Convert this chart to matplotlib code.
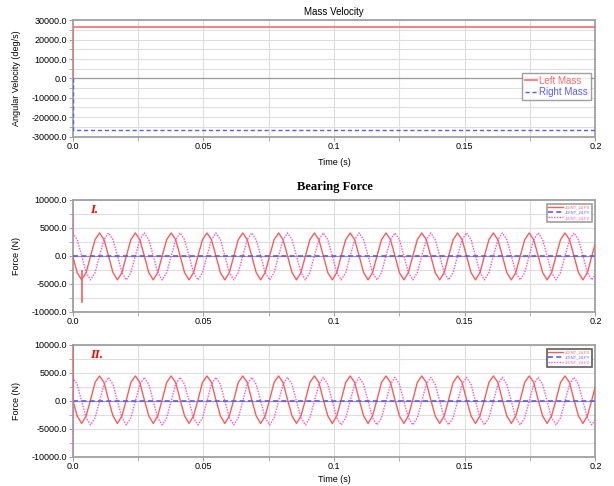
import numpy as np
import matplotlib
matplotlib.use("Agg")
import matplotlib.pyplot as plt
from matplotlib.ticker import MultipleLocator, FuncFormatter

# ---- Mass Velocity (top panel) ----
vel_t = [0.0, 0.0, 0.2]
left_mass = [0.0, 26400.0, 26400.0]
right_mass = [0.0, -26400.0, -26400.0]

# ---- Bearing force samples (one cycle per row, ~8 samples per cycle) ----
force_dt = 0.0017125
n_force = 118

fx_1 = [
    0, -3000, -4300, -3000, 0, 2900, 4100, 2900,
    0, -3000, -4300, -3000, 0, 2900, 4100, 2900,
    0, -3000, -4300, -3000, 0, 2900, 4100, 2900,
    0, -3000, -4300, -3000, 0, 2900, 4100, 2900,
    0, -3000, -4300, -3000, 0, 2900, 4100, 2900,
    0, -3000, -4300, -3000, 0, 2900, 4100, 2900,
    0, -3000, -4300, -3000, 0, 2900, 4100, 2900,
    0, -3000, -4300, -3000, 0, 2900, 4100, 2900,
    0, -3000, -4300, -3000, 0, 2900, 4100, 2900,
    0, -3000, -4300, -3000, 0, 2900, 4100, 2900,
    0, -3000, -4300, -3000, 0, 2900, 4100, 2900,
    0, -3000, -4300, -3000, 0, 2900, 4100, 2900,
    0, -3000, -4300, -3000, 0, 2900, 4100, 2900,
    0, -3000, -4300, -3000, 0, 2900, 4100, 2900,
    0, -3000, -4300, -3000, 0, 2900,
]
fz_1 = [
    4100, 2900, 0, -3000, -4300, -3000, 0, 2900,
    4100, 2900, 0, -3000, -4300, -3000, 0, 2900,
    4100, 2900, 0, -3000, -4300, -3000, 0, 2900,
    4100, 2900, 0, -3000, -4300, -3000, 0, 2900,
    4100, 2900, 0, -3000, -4300, -3000, 0, 2900,
    4100, 2900, 0, -3000, -4300, -3000, 0, 2900,
    4100, 2900, 0, -3000, -4300, -3000, 0, 2900,
    4100, 2900, 0, -3000, -4300, -3000, 0, 2900,
    4100, 2900, 0, -3000, -4300, -3000, 0, 2900,
    4100, 2900, 0, -3000, -4300, -3000, 0, 2900,
    4100, 2900, 0, -3000, -4300, -3000, 0, 2900,
    4100, 2900, 0, -3000, -4300, -3000, 0, 2900,
    4100, 2900, 0, -3000, -4300, -3000, 0, 2900,
    4100, 2900, 0, -3000, -4300, -3000, 0, 2900,
    4100, 2900, 0, -3000, -4300, -3000,
]
fx_2 = [
    200, -2700, -4050, -2700, 200, 3300, 4450, 3300,
    200, -2700, -4050, -2700, 200, 3300, 4450, 3300,
    200, -2700, -4050, -2700, 200, 3300, 4450, 3300,
    200, -2700, -4050, -2700, 200, 3300, 4450, 3300,
    200, -2700, -4050, -2700, 200, 3300, 4450, 3300,
    200, -2700, -4050, -2700, 200, 3300, 4450, 3300,
    200, -2700, -4050, -2700, 200, 3300, 4450, 3300,
    200, -2700, -4050, -2700, 200, 3300, 4450, 3300,
    200, -2700, -4050, -2700, 200, 3300, 4450, 3300,
    200, -2700, -4050, -2700, 200, 3300, 4450, 3300,
    200, -2700, -4050, -2700, 200, 3300, 4450, 3300,
    200, -2700, -4050, -2700, 200, 3300, 4450, 3300,
    200, -2700, -4050, -2700, 200, 3300, 4450, 3300,
    200, -2700, -4050, -2700, 200, 3300, 4450, 3300,
    200, -2700, -4050, -2700, 200, 3300,
]
fz_2 = [
    4200, 2950, -50, -3050, -4300, -3050, -50, 2950,
    4200, 2950, -50, -3050, -4300, -3050, -50, 2950,
    4200, 2950, -50, -3050, -4300, -3050, -50, 2950,
    4200, 2950, -50, -3050, -4300, -3050, -50, 2950,
    4200, 2950, -50, -3050, -4300, -3050, -50, 2950,
    4200, 2950, -50, -3050, -4300, -3050, -50, 2950,
    4200, 2950, -50, -3050, -4300, -3050, -50, 2950,
    4200, 2950, -50, -3050, -4300, -3050, -50, 2950,
    4200, 2950, -50, -3050, -4300, -3050, -50, 2950,
    4200, 2950, -50, -3050, -4300, -3050, -50, 2950,
    4200, 2950, -50, -3050, -4300, -3050, -50, 2950,
    4200, 2950, -50, -3050, -4300, -3050, -50, 2950,
    4200, 2950, -50, -3050, -4300, -3050, -50, 2950,
    4200, 2950, -50, -3050, -4300, -3050, -50, 2950,
    4200, 2950, -50, -3050, -4300, -3050,
]
fy_t = [0.0, 0.2]
fy = [0.0, 0.0]

# start-up spikes
spike1_fz_t = [0.0, 0.0]
spike1_fz = [4100, 7500]
spike1_fx_t = [0.0036, 0.0036]
spike1_fx = [-2800, -8200]
spike2_fx_t = [0.0, 0.0]
spike2_fx = [12000, 200]
spike2_fz_t = [0.0, 0.0]
spike2_fz = [4200, -12000]

legend_names = ["JOINT_24.FX", "JOINT_24.FY", "JOINT_24.FZ"]

RED = "#ff5a5a"
BLUE = "#5a5aff"
PINK = "#ff4fc8"
GRID = "#dedede"
EDGE = "#a0a0a0"

plt.rcParams["font.family"] = ["Liberation Sans", "DejaVu Sans"]


def xfmt(v, pos):
    if abs(v) < 1e-12:
        return "0.0"
    return "%g" % v


def style_axes(ax, ymin, ymax, ymajor, yminor):
    ax.set_xlim(0, 0.2)
    ax.set_ylim(ymin, ymax)
    ax.xaxis.set_major_locator(MultipleLocator(0.05))
    ax.xaxis.set_minor_locator(MultipleLocator(0.025))
    ax.yaxis.set_major_locator(MultipleLocator(ymajor))
    ax.yaxis.set_minor_locator(MultipleLocator(yminor))
    ax.xaxis.set_major_formatter(FuncFormatter(xfmt))
    ax.yaxis.set_major_formatter(FuncFormatter(lambda v, p: "%.1f" % v))
    ax.grid(True, which="both", color=GRID, linewidth=0.8)
    ax.set_axisbelow(True)
    ax.axhline(0, color="#9a9a9a", linewidth=0.9, zorder=1)
    for s in ax.spines.values():
        s.set_color(EDGE)
        s.set_linewidth(1.3)
    ax.tick_params(which="both", length=3, color=EDGE, labelsize=6.5, pad=1)


fig = plt.figure(figsize=(6.14, 4.86), dpi=100)

# top panel
ax1 = fig.add_axes([0.1184, 0.7191, 0.8513, 0.2391])
style_axes(ax1, -30000, 30000, 10000, 5000)
ax1.plot(vel_t, left_mass, color="#ff6a6a", linewidth=1.2, label="Left Mass", zorder=3)
ax1.plot(vel_t, right_mass, color="#5a5aff", linewidth=1.0, linestyle=(0, (3, 2)),
         label="Right Mass", zorder=3)
ax1.set_title("Mass Velocity", fontsize=7, pad=4)
ax1.set_ylabel("Angular Velocity (deg/s)", fontsize=6.5, labelpad=8)
ax1.set_xlabel("Time (s)", fontsize=6.5, labelpad=5)
leg = ax1.legend(loc="upper right", bbox_to_anchor=(1.0, 0.59), fontsize=7,
                 handlelength=1.2, handletextpad=0.2, borderpad=0.3,
                 labelspacing=0.15, fancybox=False, labelcolor="linecolor")
leg.get_frame().set_edgecolor("#888888")
leg.get_frame().set_linewidth(1.0)

# bearing force panels
t_force = np.arange(n_force) * force_dt
panels = [
    (0.3586, fx_1, fz_1, "I.", "#888888",
     [(spike1_fz_t, spike1_fz, PINK, (0, (1, 1))), (spike1_fx_t, spike1_fx, RED, "-")]),
    (0.0603, fx_2, fz_2, "II.", "#333333",
     [(spike2_fx_t, spike2_fx, RED, "-"), (spike2_fz_t, spike2_fz, PINK, (0, (1, 1)))]),
]
axes = []
for bottom, fx, fz, tag, ledge, spikes in panels:
    ax = fig.add_axes([0.1184, bottom, 0.8513, 0.2299])
    style_axes(ax, -10000, 10000, 5000, 2500)
    ax.plot(t_force, fx, color=RED, linewidth=1.0, label=legend_names[0], zorder=3)
    ax.plot(fy_t, fy, color=BLUE, linewidth=1.2, linestyle=(0, (3, 2)),
            label=legend_names[1], zorder=4)
    ax.plot(t_force, fz, color=PINK, linewidth=1.0, linestyle=(0, (1, 1)),
            label=legend_names[2], zorder=3)
    for st, sv, c, ls in spikes:
        ax.plot(st, sv, color=c, linewidth=1.2, linestyle=ls, zorder=5)
    ax.set_ylabel("Force (N)", fontsize=6.5, labelpad=8)
    ax.text(0.033, 0.91, tag, transform=ax.transAxes, color="red", fontsize=9,
            fontweight="bold", fontstyle="italic", family="Liberation Serif",
            ha="left", va="center")
    lg = ax.legend(loc="upper right", bbox_to_anchor=(0.997, 0.985), fontsize=3,
                   handlelength=3.5, handletextpad=0.4, borderpad=0.4,
                   labelspacing=0.3, fancybox=False, labelcolor="linecolor")
    lg.get_frame().set_edgecolor(ledge)
    lg.get_frame().set_linewidth(1.2)
    axes.append(ax)

axes[1].set_xlabel("Time (s)", fontsize=6.5, labelpad=3)
fig.text(0.545, 1 - 187 / 486, "Bearing Force", ha="center", va="center",
         fontsize=9, fontweight="bold", family="Liberation Serif")

fig.savefig("out.png", dpi=100)
